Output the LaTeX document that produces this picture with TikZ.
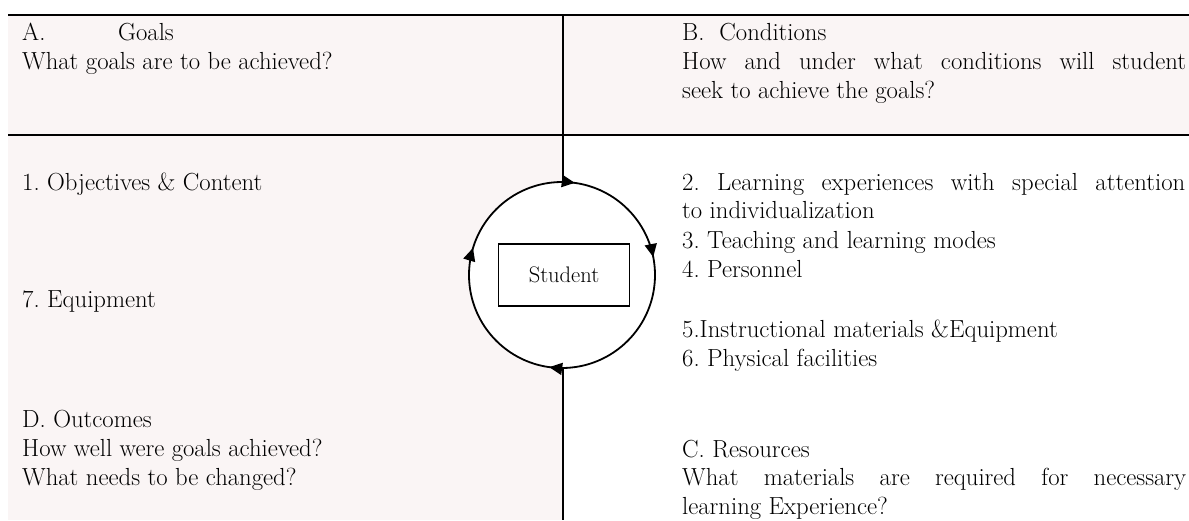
\documentclass[tikz,border=0pt]{standalone}
\usetikzlibrary{arrows.meta,decorations.markings}
\definecolor{cellpink}{RGB}{250,245,245}
\tikzset{cyclehead/.tip={Triangle[length=13pt,width=12pt]}}
\frenchspacing
\begin{document}
\begin{tikzpicture}[x=1pt,y=-1pt,
  txt/.style={anchor=base west,inner sep=0pt,font=\fontsize{24.7}{28}\selectfont},
  rule/.style={line width=2pt},
  ring/.style={line width=1.8pt},
]
\useasboundingbox (0,0) rectangle (1189,520);
% shaded cells
\fill[cellpink] (8,16) rectangle (1189,135);
\fill[cellpink] (8,135) rectangle (563,520);
% table rules
\draw[line width=2.7pt] (8,15) -- (1189,15);
\draw[rule] (8,135) -- (1189,135);

% cycle around the student
\coordinate (hub) at (562,275);
\coordinate (ringtop) at (562,182);
\coordinate (ringbot) at (562,368);
\draw[ring,fill=white,postaction={decorate},decoration={markings,
    mark=at position 0.022 with {\arrow{cyclehead}},
    mark=at position 0.219 with {\arrow{cyclehead}},
    mark=at position 0.522 with {\arrow{cyclehead}},
    mark=at position 0.797 with {\arrow{cyclehead}}}]
  (ringtop) arc[start angle=90,end angle=-270,radius=93pt];
\coordinate (coltop) at (563,15);
\coordinate (colbot) at (563,520);
\draw[rule] (coltop) -- (ringtop -| coltop);
\draw[rule] (ringbot -| colbot) -- (colbot);
\node[draw,line width=1.8pt,minimum width=131pt,minimum height=62pt,inner sep=0pt,
  font=\fontsize{22.5}{26}\selectfont] (student) at (564,275) {Student};

% left column
\node[txt] (a1) at (22,40) {A.};
\node[txt] (a2) at (118,40) {Goals};
\node[txt] (a3) at (22,69) {What goals are to be achieved?};
\node[txt] (l1) at (22,190) {1. Objectives \& Content};
\node[txt] (l7) at (22,307) {7. Equipment};
\node[txt] (d1) at (22,427) {D. Outcomes};
\node[txt] (d2) at (22,456) {How well were goals achieved?};
\node[txt] (d3) at (22,485) {What needs to be changed?};

% right column
\node[txt] (b1) at (682,40) {B.\ \ Conditions};
\node[txt] (b2) at (682,69) {\makebox[504pt][s]{How and under what conditions will student}};
\node[txt] (b3) at (682,98) {seek to achieve the goals?};
\node[txt] (r2) at (682,190) {\makebox[503pt][s]{2. Learning experiences with special attention}};
\node[txt] (r2b) at (682,218) {to individualization};
\node[txt] (r3) at (682,248) {3. Teaching and learning modes};
\node[txt] (r4) at (682,277) {4. Personnel};
\node[txt] (r5) at (682,337) {5.Instructional materials \&Equipment};
\node[txt] (r6) at (682,366) {6. Physical facilities};
\node[txt] (c1) at (682,457) {C. Resources};
\node[txt] (c2) at (682,485) {\makebox[504pt][s]{What materials are required for necessary}};
\node[txt] (c3) at (682,514) {learning Experience?};
\end{tikzpicture}
\end{document}
